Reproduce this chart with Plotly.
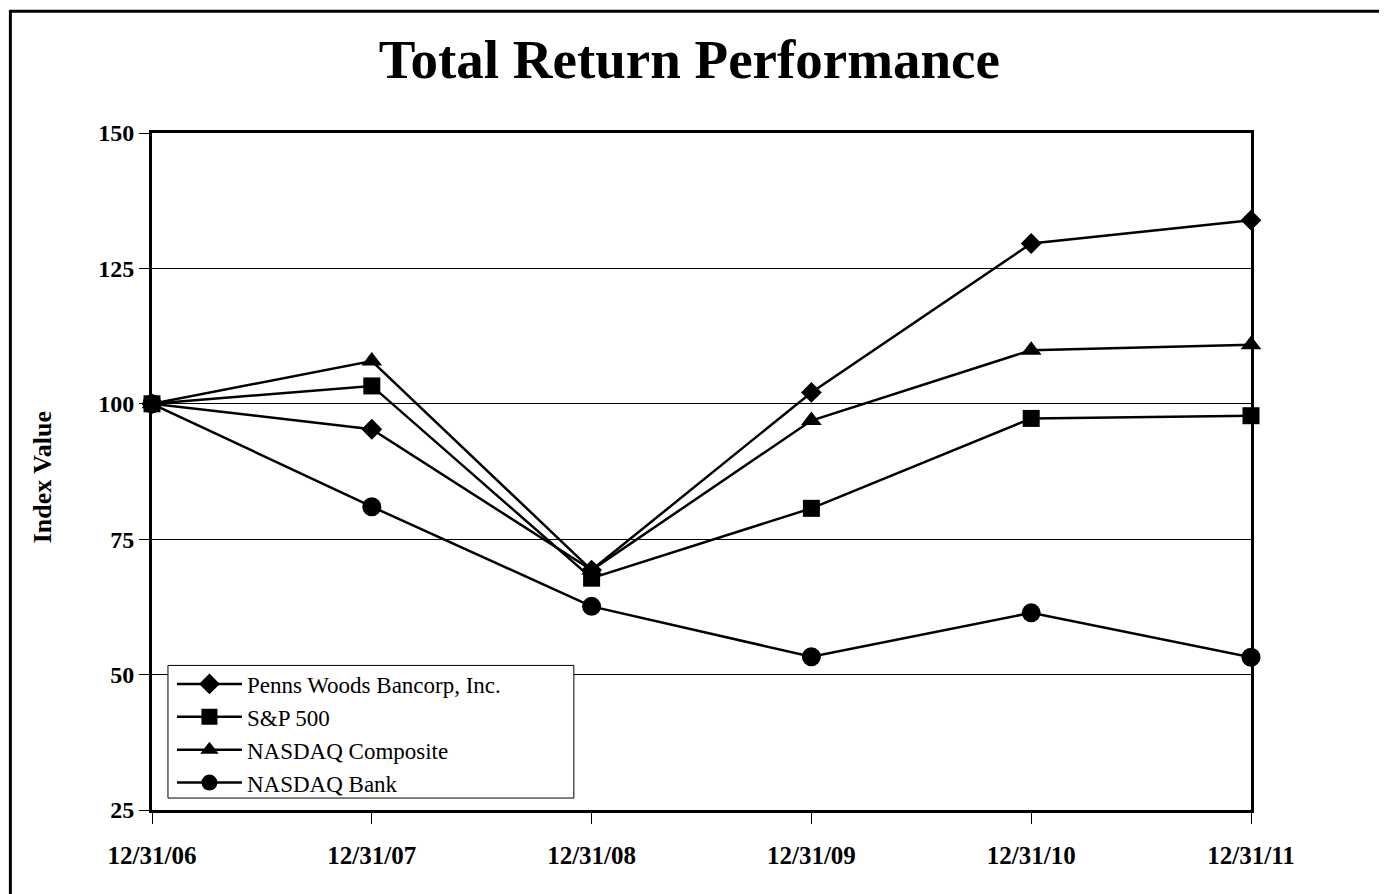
import plotly.graph_objects as go

categories = ["12/31/06", "12/31/07", "12/31/08", "12/31/09", "12/31/10", "12/31/11"]
penns_woods = [100.0, 95.3, 69.3, 102.1, 129.6, 133.9]
sp500 = [100.0, 103.3, 67.8, 80.7, 97.3, 97.8]
nasdaq_comp = [100.0, 107.9, 69.3, 96.9, 109.9, 110.9]
nasdaq_bank = [100.0, 81.0, 62.6, 53.3, 61.4, 53.2]

series = [
    ("Penns Woods Bancorp, Inc.", penns_woods, "diamond", 16),
    ("S&P 500", sp500, "square", 17),
    ("NASDAQ Composite", nasdaq_comp, "triangle-up", 18),
    ("NASDAQ Bank", nasdaq_bank, "circle", 19),
]

FONT = "Liberation Serif"


def tf(p):
    # screen pixel -> figure pixel (page offset compensation)
    return (p - 5.6) / 1.003


W, H = 1387 - 8, 894 - 8
L, R, T, B = tf(150), tf(1252), tf(131), tf(810)

fig = go.Figure()
for name, vals, sym, sz in series:
    fig.add_trace(go.Scatter(
        x=categories, y=vals, name=name, mode="lines+markers",
        line=dict(color="black", width=2.5),
        marker=dict(symbol=sym, size=sz, color="black", line=dict(width=0)),
        cliponaxis=False,
    ))


def px_x(p):
    return (tf(p) - L) / (R - L)


def px_y(p):
    return (B - tf(p)) / (B - T)


fig.update_layout(
    width=W, height=H,
    margin=dict(l=L, r=W - R, t=T, b=H - B, pad=0),
    paper_bgcolor="white", plot_bgcolor="white",
    font=dict(family=FONT, color="black"),
    title=dict(text="<b>Total Return Performance</b>", x=tf(689) / W, xref="container",
               xanchor="center", y=1 - tf(57) / H, yref="container", yanchor="middle",
               font=dict(family=FONT, size=55, color="black")),
    showlegend=True,
    legend=dict(x=px_x(170), y=px_y(662), xanchor="left", yanchor="top",
                bgcolor="rgba(0,0,0,0)", borderwidth=0,
                font=dict(family=FONT, size=23, color="black"),
                itemwidth=65, tracegroupgap=0),
)

fig.update_xaxes(
    type="category", categoryorder="array", categoryarray=categories,
    range=[0, len(categories) - 1],
    showline=True, linecolor="black", linewidth=3, mirror=True,
    ticks="outside", ticklen=11, tickwidth=1, tickcolor="black",
    showgrid=False, zeroline=False,
    tickfont=dict(family=FONT, size=25, color="black", weight="bold"),
    ticklabelstandoff=10,
)
fig.update_yaxes(
    range=[25, 150], tickvals=[25, 50, 75, 100, 125, 150],
    showline=True, linecolor="black", linewidth=3, mirror=True,
    ticks="outside", ticklen=10, tickwidth=1, tickcolor="black",
    showgrid=True, gridcolor="black", gridwidth=1, zeroline=False,
    tickfont=dict(family=FONT, size=24, color="black", weight="bold"),
)

fig.add_annotation(text="<b>Index Value</b>", textangle=-90,
                   x=px_x(41), y=px_y(476), xref="paper", yref="paper",
                   showarrow=False, xanchor="center", yanchor="middle",
                   font=dict(family=FONT, size=26, color="black"))

# legend frame
fig.add_shape(type="rect", xref="paper", yref="paper", layer="above",
              x0=px_x(166), x1=px_x(573), y0=px_y(665), y1=px_y(798),
              fillcolor="white", line=dict(color="black", width=1))

# outer frame: top and left edges
fig.add_shape(type="line", xref="paper", yref="paper",
              x0=px_x(7), x1=px_x(1400), y0=px_y(9), y1=px_y(9),
              line=dict(color="black", width=3))
fig.add_shape(type="line", xref="paper", yref="paper",
              x0=px_x(8), x1=px_x(8), y0=px_y(8), y1=px_y(900),
              line=dict(color="black", width=3))

fig.write_html("out.html")
